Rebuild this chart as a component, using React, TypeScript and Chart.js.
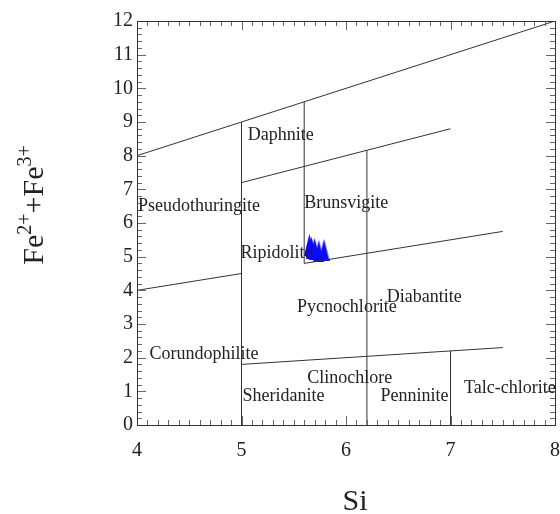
import React, { useEffect, useRef } from 'react';
import { Chart, registerables } from 'chart.js';

Chart.register(...registerables);

const SERIF = '"Liberation Serif", "Times New Roman", serif';

// Axis ranges and labelled ticks
const siRange = [4, 8];
const feRange = [0, 12];
const siTicks = [4, 5, 6, 7, 8];
const feTicks = [0, 1, 2, 3, 4, 5, 6, 7, 8, 9, 10, 11, 12];

// Field boundaries of the chlorite classification (Si vs Fe2+ + Fe3+)
const upperLimitSi = [4, 8];
const upperLimitFe = [8, 12];
const daphniteSi = [5, 7];
const daphniteFe = [7.2, 8.8];
const ripidoliteLeftSi = [4, 5];
const ripidoliteLeftFe = [4, 4.5];
const ripidoliteRightSi = [5.6, 7.5];
const ripidoliteRightFe = [4.8, 5.75];
const lowFeSi = [5, 7.5];
const lowFeFe = [1.8, 2.3];
const si50Si = [5, 5];
const si50Fe = [0, 9];
const si56Si = [5.6, 5.6];
const si56Fe = [4.8, 9.6];
const si62Si = [6.2, 6.2];
const si62Fe = [0, 8.16];
const si70Si = [7, 7];
const si70Fe = [0, 2.2];

// Analysed chlorite samples
const sampleSi = [5.65, 5.67, 5.7, 5.74, 5.79];
const sampleFe = [5.35, 5.27, 5.23, 5.17, 5.2];

// Field names and their anchor points (Si, Fe)
const fieldNames = [
  'Daphnite',
  'Pseudothuringite',
  'Brunsvigite',
  'Ripidolite',
  'Pycnochlorite',
  'Diabantite',
  'Corundophilite',
  'Clinochlore',
  'Sheridanite',
  'Penninite',
  'Talc-chlorite',
];
const fieldSi = [5.06, 4.01, 5.6, 4.99, 5.53, 6.39, 4.12, 5.63, 5.01, 6.33, 7.13];
const fieldFe = [8.62, 6.5, 6.6, 5.1, 3.5, 3.8, 2.1, 1.4, 0.85, 0.85, 1.1];

const xAxisTitle = 'Si';
const yAxisTitleRuns = [
  { text: 'Fe', sup: false },
  { text: '2+', sup: true },
  { text: '+Fe', sup: false },
  { text: '3+', sup: true },
];

const toPoints = (xs: number[], ys: number[]) => xs.map((x, i) => ({ x, y: ys[i] }));

const boundaries = [
  [upperLimitSi, upperLimitFe],
  [daphniteSi, daphniteFe],
  [ripidoliteLeftSi, ripidoliteLeftFe],
  [ripidoliteRightSi, ripidoliteRightFe],
  [lowFeSi, lowFeFe],
  [si50Si, si50Fe],
  [si56Si, si56Fe],
  [si62Si, si62Fe],
  [si70Si, si70Fe],
];

function makeTriangle(): HTMLCanvasElement {
  const c = document.createElement('canvas');
  c.width = 11;
  c.height = 22;
  const g = c.getContext('2d')!;
  g.fillStyle = '#0a0af5';
  g.beginPath();
  g.moveTo(5.5, 0);
  g.lineTo(11, 22);
  g.lineTo(0, 22);
  g.closePath();
  g.fill();
  return c;
}

const framePlugin = {
  id: 'frameTicksLabels',
  afterDatasetsDraw(chart: any) {
    const { ctx, chartArea: a, scales } = chart;
    const xs = scales.x;
    const ys = scales.y;
    ctx.save();

    // inward ticks on all four sides
    ctx.strokeStyle = '#666';
    ctx.lineWidth = 1;
    ctx.beginPath();
    for (let i = Math.round(siRange[0] * 10); i <= Math.round(siRange[1] * 10); i++) {
      const v = i / 10;
      const len = i % 10 === 0 ? 9 : 5;
      const px = Math.round(xs.getPixelForValue(v)) + 0.5;
      ctx.moveTo(px, a.bottom);
      ctx.lineTo(px, a.bottom - len);
      ctx.moveTo(px, a.top);
      ctx.lineTo(px, a.top + len);
    }
    for (let i = Math.round(feRange[0] * 5); i <= Math.round(feRange[1] * 5); i++) {
      const v = i / 5;
      const len = i % 5 === 0 ? 9 : 5;
      const py = Math.round(ys.getPixelForValue(v)) + 0.5;
      ctx.moveTo(a.left, py);
      ctx.lineTo(a.left + len, py);
      ctx.moveTo(a.right, py);
      ctx.lineTo(a.right - len, py);
    }
    ctx.stroke();

    // frame
    ctx.strokeStyle = '#333';
    ctx.strokeRect(Math.round(a.left) + 0.5, Math.round(a.top) + 0.5, Math.round(a.right - a.left), Math.round(a.bottom - a.top));

    // field names
    ctx.fillStyle = '#222';
    ctx.font = `18px ${SERIF}`;
    ctx.textAlign = 'left';
    ctx.textBaseline = 'middle';
    fieldNames.forEach((name, i) => {
      ctx.fillText(name, xs.getPixelForValue(fieldSi[i]), ys.getPixelForValue(fieldFe[i]));
    });

    // x axis title
    ctx.font = `30px ${SERIF}`;
    ctx.textAlign = 'center';
    ctx.textBaseline = 'alphabetic';
    ctx.fillText(xAxisTitle, 355, 510);

    // y axis title with superscripts, rotated
    const big = `30px ${SERIF}`;
    const small = `20px ${SERIF}`;
    let total = 0;
    yAxisTitleRuns.forEach((r) => {
      ctx.font = r.sup ? small : big;
      total += ctx.measureText(r.text).width;
    });
    ctx.translate(43, 205);
    ctx.rotate(-Math.PI / 2);
    ctx.textAlign = 'left';
    let cx = -total / 2;
    yAxisTitleRuns.forEach((r) => {
      ctx.font = r.sup ? small : big;
      ctx.fillText(r.text, cx, r.sup ? -12 : 0);
      cx += ctx.measureText(r.text).width;
    });

    ctx.restore();
  },
};

export default function App() {
  const ref = useRef<HTMLCanvasElement>(null);

  useEffect(() => {
    const canvas = ref.current!;
    const triangle = makeTriangle();
    const lineSets = boundaries.map(([sx, fy]) => ({
      data: toPoints(sx, fy),
      showLine: true,
      borderColor: '#333',
      borderWidth: 1,
      pointRadius: 0,
      fill: false,
    }));
    const chart = new Chart(canvas, {
      type: 'scatter',
      data: {
        datasets: [
          ...lineSets,
          {
            data: toPoints(sampleSi, sampleFe),
            pointStyle: triangle as any,
            pointRadius: 5,
            backgroundColor: '#0a0af5',
            borderWidth: 0,
          },
        ] as any,
      },
      options: {
        animation: false,
        responsive: false,
        devicePixelRatio: 1,
        layout: { padding: { top: 21, right: 2, left: 0, bottom: 0 } },
        plugins: { legend: { display: false }, tooltip: { enabled: false } },
        scales: {
          x: {
            type: 'linear',
            min: siRange[0],
            max: siRange[1],
            grid: { display: false, drawTicks: false },
            border: { display: false },
            afterBuildTicks: (s: any) => {
              s.ticks = siTicks.map((value) => ({ value }));
            },
            afterFit: (s: any) => {
              s.height = 89;
              s.paddingLeft = 0;
              s.paddingRight = 0;
            },
            ticks: {
              color: '#222',
              font: { family: SERIF, size: 20 },
              padding: 14,
              maxRotation: 0,
              autoSkip: false,
            },
          },
          y: {
            type: 'linear',
            min: feRange[0],
            max: feRange[1],
            grid: { display: false, drawTicks: false },
            border: { display: false },
            afterBuildTicks: (s: any) => {
              s.ticks = feTicks.map((value) => ({ value }));
            },
            afterFit: (s: any) => {
              s.width = 137;
              s.paddingTop = 0;
              s.paddingBottom = 0;
            },
            ticks: {
              color: '#222',
              font: { family: SERIF, size: 20 },
              padding: 4,
              autoSkip: false,
            },
          },
        },
      },
      plugins: [framePlugin],
    });
    return () => chart.destroy();
  }, []);

  return (
    <div style={{ position: 'fixed', left: 0, top: 0, width: 560, height: 514 }}>
      <canvas ref={ref} width={560} height={514} style={{ display: 'block', width: 560, height: 514 }} />
    </div>
  );
}
